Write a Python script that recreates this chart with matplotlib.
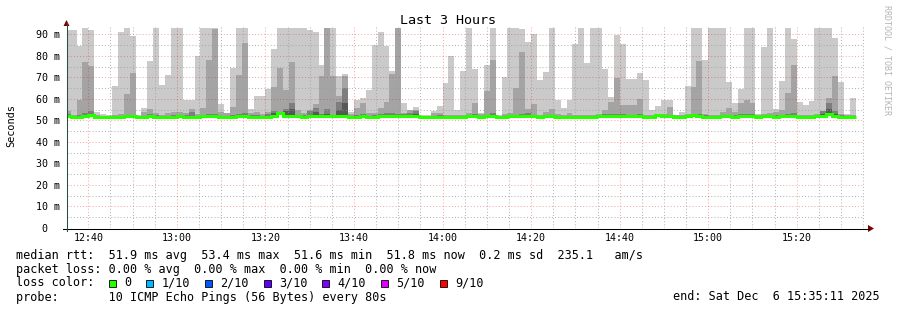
import numpy as np
import matplotlib
matplotlib.use("Agg")
import matplotlib.pyplot as plt
from matplotlib.lines import Line2D
from matplotlib.patches import Polygon, Rectangle

# ---------------- data ----------------
title = "Last 3 Hours"
first_sample = "12:34:40"      # start of the first (partly visible) 80 s sample
step_seconds = 80
window_start = "12:35:11"
window_minutes = 180

# 10 pings per sample, sorted: p10 (max), p9, p8, p7 and the median (ms)
rtt_max = [
    92.3, 92.3, 84.6, 92.9, 92.0, 54.0, 53.0, 52.5, 66.1, 91.1,
    92.9, 89.2, 52.6, 55.9, 77.6, 92.9, 66.7, 71.3, 92.9, 92.9,
    59.7, 59.7, 80.0, 92.9, 92.9, 92.9, 57.6, 53.3, 74.4, 92.9,
    92.9, 55.3, 61.4, 61.4, 64.8, 83.4, 92.9, 92.9, 92.9, 92.9,
    92.9, 92.0, 91.0, 76.0, 92.9, 92.9, 70.5, 71.8, 54.0, 59.4,
    60.5, 64.2, 85.2, 91.0, 84.6, 73.0, 92.9, 58.2, 54.8, 56.3,
    52.5, 52.5, 54.5, 56.8, 67.5, 80.0, 55.1, 73.0, 92.9, 74.1,
    53.3, 76.0, 92.9, 52.5, 70.2, 92.9, 92.9, 92.6, 86.4, 90.0,
    69.0, 72.6, 92.9, 59.7, 55.6, 59.7, 85.7, 92.9, 76.9, 92.9,
    92.9, 74.1, 61.0, 89.8, 85.5, 69.5, 69.5, 72.2, 68.7, 54.7,
    56.8, 59.7, 59.7, 52.5, 54.0, 66.1, 92.9, 92.9, 78.3, 92.9,
    92.9, 92.9, 67.9, 57.9, 64.8, 92.9, 92.9, 52.8, 84.1, 92.9,
    55.3, 68.4, 92.9, 88.0, 58.4, 57.4, 59.1, 92.9, 92.9, 92.9,
    88.3, 67.9, 53.0, 60.5,
]
rtt_p9 = [
    54.3, 52.5, 59.7, 77.2, 75.3, 52.5, 52.3, 52.2, 52.6, 53.0,
    62.4, 72.1, 52.3, 54.0, 55.3, 53.3, 52.4, 53.6, 54.0, 54.0,
    53.6, 55.3, 52.8, 55.9, 78.3, 92.5, 54.0, 53.6, 56.3, 71.0,
    86.0, 53.6, 54.0, 53.0, 54.0, 65.6, 74.4, 64.0, 77.2, 55.1,
    53.6, 54.8, 57.7, 70.7, 92.9, 70.7, 61.4, 70.5, 52.8, 55.9,
    58.2, 53.3, 53.7, 55.9, 58.7, 71.8, 92.9, 53.7, 54.8, 54.8,
    52.3, 52.3, 53.3, 53.3, 52.5, 52.5, 52.4, 52.5, 53.7, 57.9,
    52.8, 63.8, 78.0, 52.2, 52.8, 53.3, 65.1, 81.8, 55.3, 57.6,
    52.5, 54.0, 55.3, 52.8, 52.5, 53.3, 52.5, 52.5, 52.5, 52.5,
    52.8, 55.1, 58.4, 69.8, 57.4, 57.4, 57.4, 59.9, 52.5, 52.5,
    53.0, 53.0, 56.3, 52.4, 52.4, 53.0, 65.6, 77.6, 53.0, 52.5,
    52.5, 54.0, 55.9, 54.0, 57.9, 59.7, 57.9, 52.4, 53.0, 53.5,
    54.0, 55.1, 63.0, 75.9, 52.5, 52.5, 52.5, 52.8, 53.3, 60.5,
    70.5, 53.0, 52.4, 52.4,
]
rtt_p8 = [
    53.0, 52.2, 52.4, 53.7, 54.5, 52.2, 52.2, 52.1, 52.2, 52.3,
    52.5, 52.6, 52.1, 52.3, 53.0, 52.4, 52.2, 52.3, 52.4, 52.5,
    52.4, 54.0, 52.2, 52.6, 52.8, 53.0, 52.3, 52.2, 52.4, 52.8,
    53.7, 52.4, 52.5, 52.2, 52.8, 54.3, 54.0, 55.3, 58.2, 52.6,
    52.4, 54.3, 55.6, 52.8, 55.3, 52.6, 58.7, 65.1, 52.2, 52.4,
    53.0, 52.3, 52.4, 53.0, 53.5, 53.7, 53.0, 53.0, 53.5, 54.3,
    52.1, 52.1, 52.2, 52.4, 52.2, 52.2, 52.1, 52.2, 52.6, 52.8,
    52.2, 52.6, 53.3, 52.1, 52.3, 52.4, 52.6, 52.8, 53.3, 52.6,
    52.2, 52.4, 52.6, 52.2, 52.2, 52.3, 52.2, 52.2, 52.2, 52.3,
    52.4, 53.0, 52.8, 53.2, 52.8, 52.6, 52.6, 52.8, 52.2, 52.1,
    52.9, 52.4, 52.6, 52.1, 52.1, 52.6, 52.8, 53.0, 52.4, 52.2,
    52.2, 52.5, 52.6, 52.4, 52.8, 53.0, 52.8, 52.1, 52.6, 52.5,
    52.4, 52.6, 53.0, 53.5, 52.2, 52.2, 52.2, 52.3, 54.3, 57.9,
    54.3, 52.4, 52.1, 52.2,
]
rtt_p7 = [
    52.2, 52.0, 52.0, 52.3, 52.6, 52.0, 52.0, 51.9, 52.0, 52.0,
    52.1, 52.1, 51.9, 52.0, 52.2, 52.0, 52.0, 52.0, 52.0, 52.1,
    52.0, 52.3, 52.0, 52.1, 52.1, 52.2, 52.0, 52.0, 52.0, 52.1,
    52.2, 52.0, 52.0, 52.0, 52.3, 53.3, 53.9, 54.5, 55.5, 52.1,
    52.0, 52.4, 54.0, 52.2, 52.8, 52.2, 55.0, 58.0, 51.9, 52.0,
    52.3, 52.0, 52.0, 52.3, 52.5, 52.6, 52.4, 52.3, 52.5, 52.8,
    51.9, 51.9, 52.0, 52.0, 52.0, 52.0, 51.9, 52.0, 52.1, 52.2,
    52.0, 52.1, 52.4, 51.9, 52.0, 52.1, 52.1, 52.2, 52.4, 52.1,
    52.0, 52.1, 52.1, 52.0, 52.0, 52.0, 52.0, 52.0, 52.0, 52.0,
    52.1, 52.3, 52.2, 52.4, 52.2, 52.1, 52.1, 52.2, 52.0, 51.9,
    52.7, 52.0, 52.1, 51.9, 51.9, 52.3, 52.7, 52.4, 52.0, 52.0,
    52.0, 52.1, 52.1, 52.0, 52.2, 52.3, 52.2, 51.9, 52.3, 52.1,
    52.0, 52.1, 52.3, 52.6, 52.0, 52.0, 52.0, 52.1, 53.2, 55.3,
    53.0, 52.0, 51.9, 52.0,
]
rtt_median = [
    51.9, 51.8, 51.8, 52.0, 52.4, 51.8, 51.8, 51.7, 51.8, 51.8,
    51.9, 51.9, 51.7, 51.8, 51.9, 51.8, 51.8, 51.8, 51.8, 51.9,
    51.8, 51.7, 51.8, 51.9, 51.9, 52.0, 51.8, 51.8, 51.8, 51.9,
    52.0, 51.8, 51.8, 51.8, 51.6, 51.9, 53.4, 52.1, 52.0, 51.9,
    51.8, 52.0, 52.1, 51.9, 52.0, 51.9, 51.9, 52.0, 51.7, 51.8,
    51.9, 51.8, 51.8, 51.9, 51.9, 52.0, 51.9, 51.9, 52.0, 52.0,
    51.7, 51.7, 51.8, 51.8, 51.8, 51.8, 51.7, 51.8, 51.9, 51.9,
    51.8, 51.9, 52.1, 51.7, 51.8, 51.9, 51.9, 52.0, 52.1, 51.9,
    51.8, 51.9, 51.9, 51.8, 51.7, 51.8, 51.8, 51.7, 51.8, 51.8,
    51.9, 52.0, 51.9, 52.1, 51.9, 51.9, 51.9, 52.0, 51.7, 51.7,
    52.6, 51.9, 51.9, 51.7, 51.7, 52.2, 52.6, 52.1, 51.8, 51.8,
    51.8, 51.9, 51.9, 51.8, 52.0, 52.1, 52.0, 51.7, 52.2, 51.9,
    51.8, 51.9, 52.0, 52.1, 51.8, 51.8, 51.8, 51.9, 52.2, 52.8,
    52.2, 51.8, 51.7, 51.8,
]

y_ticks_ms = [0, 10, 20, 30, 40, 50, 60, 70, 80, 90]
y_tick_labels = ["0  ", "10 m", "20 m", "30 m", "40 m", "50 m", "60 m", "70 m", "80 m", "90 m"]
x_tick_labels = ["12:40", "13:00", "13:20", "13:40", "14:00", "14:20", "14:40", "15:00", "15:20"]
y_label = "Seconds"

legend_rtt = "median rtt:  51.9 ms avg  53.4 ms max  51.6 ms min  51.8 ms now  0.2 ms sd  235.1   am/s"
legend_loss = "packet loss: 0.00 % avg  0.00 % max  0.00 % min  0.00 % now"
legend_probe = "probe:       10 ICMP Echo Pings (56 Bytes) every 80s"
legend_end = "end: Sat Dec  6 15:35:11 2025"
loss_labels = ["0", "1/10", "2/10", "3/10", "4/10", "5/10", "9/10"]
loss_colors = ["#26ff00", "#00b8ff", "#0059ff", "#5e00ff", "#7e00ff", "#dd00ff", "#ff0000"]
watermark = "RRDTOOL / TOBI OETIKER"

# ---------------- helpers ----------------
def to_min(hms):
    parts = [int(p) for p in hms.split(":")]
    while len(parts) < 3:
        parts.append(0)
    return parts[0] * 60 + parts[1] + parts[2] / 60.0

W, H, DPI = 897, 310, 100
MONO = "DejaVu Sans Mono"
plt.rcParams["font.family"] = MONO

def fx(px):
    return px / W

def fy(py):
    return 1 - py / H

fig = plt.figure(figsize=(W / DPI, H / DPI), dpi=DPI, facecolor="white")

# plot area in pixels (from top-left)
L, R, T, B = 67, 864, 25, 228
ax = fig.add_axes([fx(L), fy(B), (R - L) / W, (B - T) / H])
ax.set_facecolor("white")

n = len(rtt_max)
t0 = to_min(first_sample)
edges = t0 + (step_seconds / 60.0) * np.arange(n + 1)
x0 = to_min(window_start)
ax.set_xlim(x0, x0 + window_minutes)
ax.set_ylim(0, 94.4)

med = np.array(rtt_median)
smoke = [(rtt_max, "#cacaca"), (rtt_p9, "#a4a4a4"), (rtt_p8, "#7e7e7e"), (rtt_p7, "#585858")]
for z, (vals, col) in enumerate(smoke):
    ax.stairs(np.array(vals), edges, baseline=med, fill=True, color=col, lw=0, zorder=1 + z * 0.1)

# grid (drawn on top of smoke like rrdtool)
minor_c = (0.62, 0.62, 0.62, 0.75)
major_c = (1.0, 0.0, 0.0, 0.35)
dots = (0, (1, 2))
for v in np.arange(5, 94, 10):
    ax.axhline(v, color=minor_c, lw=0.75, ls=dots, zorder=3)
for v in y_ticks_ms[1:]:
    ax.axhline(v, color=major_c, lw=0.75, ls=dots, zorder=3)
xt = [to_min(s) for s in x_tick_labels]
m = to_min("12:35")
while m <= x0 + window_minutes:
    if m >= x0 and all(abs(m - t) > 1e-6 for t in xt):
        ax.axvline(m, color=minor_c, lw=0.75, ls=dots, zorder=3)
    m += 5
for t in xt:
    ax.axvline(t, color=major_c, lw=0.75, ls=dots, zorder=3)

# median line
ax.stairs(med, edges, color="#26ff00", lw=2.2, zorder=4, baseline=None)

for s in ax.spines.values():
    s.set_visible(False)
ax.set_yticks(y_ticks_ms, y_tick_labels)
ax.set_xticks(xt, x_tick_labels)
ax.tick_params(axis="y", length=0, pad=5, labelsize=7.2)
ax.tick_params(axis="x", length=0, pad=3.5, labelsize=7.2)
for lab in ax.get_yticklabels() + ax.get_xticklabels():
    lab.set_fontfamily(MONO)

# axes lines and arrows
fig.add_artist(Line2D([fx(63), fx(869)], [fy(B + 0.5), fy(B + 0.5)], color="black", lw=0.75))
fig.add_artist(Line2D([fx(66.5), fx(66.5)], [fy(B + 3), fy(23)], color="#2c4d43", lw=0.75))
arrow_c = "#7f0000"
fig.add_artist(Polygon([(fx(868), fy(225)), (fx(874), fy(228.5)), (fx(868), fy(232))],
                       closed=True, color=arrow_c, lw=0))
fig.add_artist(Polygon([(fx(63.5), fy(26)), (fx(66.5), fy(20)), (fx(69.5), fy(26))],
                       closed=True, color=arrow_c, lw=0))

# texts
fig.text(fx(448), fy(20), title, ha="center", va="center", fontsize=9.6, family=MONO)
fig.text(fx(11), fy(126), y_label, rotation=90, ha="center", va="center", fontsize=7.4, family=MONO)
fig.text(fx(887), fy(5), watermark, rotation=-90, ha="center", va="top", fontsize=6,
         family=MONO, color="#b4b4b4")

LEG = 8.5
fig.text(fx(16), fy(258.5), legend_rtt, ha="left", va="baseline", fontsize=LEG, family=MONO)
fig.text(fx(16), fy(272.5), legend_loss, ha="left", va="baseline", fontsize=LEG, family=MONO)
fig.text(fx(16), fy(286.5), "loss color:", ha="left", va="baseline", fontsize=LEG, family=MONO)
fig.text(fx(16), fy(300.5), legend_probe, ha="left", va="baseline", fontsize=LEG, family=MONO)
fig.text(fx(880), fy(300.5), legend_end, ha="right", va="baseline", fontsize=LEG, family=MONO)

cw = 7.1
bx = 108.7
for lab, col in zip(loss_labels, loss_colors):
    fig.add_artist(Rectangle((fx(bx), fy(287)), 7 / W, 7 / H, facecolor=col,
                             edgecolor="black", lw=0.6))
    fig.text(fx(bx + 15.3), fy(286.5), lab, ha="left", va="baseline", fontsize=LEG, family=MONO)
    bx = bx + 15.3 + cw * len(lab) + 15

fig.savefig("out.png", dpi=DPI, facecolor="white")
